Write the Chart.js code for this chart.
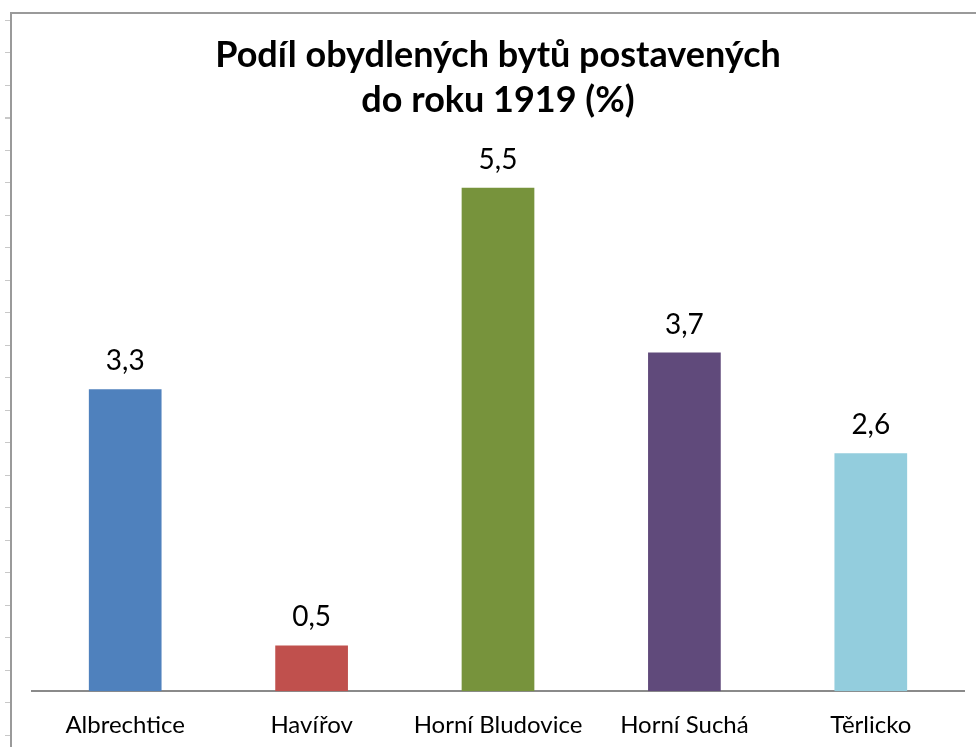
<!DOCTYPE html>
<html lang="cs">
<head>
    <meta charset="UTF-8">
    <title>Podíl obydlených bytů postavených do roku 1919</title>
    <script src="https://cdn.jsdelivr.net/npm/chart.js"></script>
    <style>
        body { margin: 0; background: #fff; }
        #wrap { position: relative; width: 976px; height: 747px; }
        #frame {
            position: absolute; left: 10px; top: 12px; right: 0; bottom: 0;
            border-top: 2px solid #9a9a9a; border-left: 2px solid #9a9a9a;
        }
        #marks {
            position: absolute; left: 5px; top: 20px; width: 5px; bottom: 0;
            background: repeating-linear-gradient(to bottom, #c8c8c8 0, #c8c8c8 1px, transparent 1px, transparent 32.5px);
        }
        canvas { position: absolute; left: 0; top: 0; }
    </style>
</head>
<body>
<div id="wrap">
    <div id="marks"></div>
    <div id="frame"></div>
    <canvas id="myChart" width="976" height="747"></canvas>
</div>
<script>
    // data
    var obce = ['Albrechtice', 'Havířov', 'Horní Bludovice', 'Horní Suchá', 'Těrlicko'];
    var podil = [3.3, 0.5, 5.5, 3.7, 2.6];
    var barvy = ['#4F81BD', '#C0504D', '#77933C', '#604A7B', '#93CDDD'];
    var titulek = ['Podíl obydlených bytů postavených', 'do roku 1919 (%)'];

    // hodnoty nad sloupci (s desetinnou čárkou)
    var popisky = {
        id: 'popisky',
        afterDatasetsDraw: function(chart) {
            var ctx = chart.ctx;
            var meta = chart.getDatasetMeta(0);
            ctx.save();
            ctx.font = '28px Lato';
            ctx.fillStyle = '#000';
            ctx.textAlign = 'center';
            ctx.textBaseline = 'alphabetic';
            meta.data.forEach(function(bar, i) {
                var txt = String(podil[i]).replace('.', ',');
                ctx.fillText(txt, bar.x, bar.y - 19);
            });
            ctx.restore();
        }
    };

    var ctx = document.getElementById('myChart').getContext('2d');
    var myChart = new Chart(ctx, {
        type: 'bar',
        data: {
            labels: obce,
            datasets: [{
                data: podil,
                backgroundColor: barvy,
                borderWidth: 0,
                categoryPercentage: 1,
                barPercentage: 0.39
            }]
        },
        options: {
            responsive: false,
            animation: false,
            layout: { padding: { top: 33, left: 32, right: 12, bottom: -13 } },
            plugins: {
                legend: { display: false },
                tooltip: { enabled: false },
                title: {
                    display: true,
                    text: titulek,
                    color: '#000',
                    font: { family: 'Lato', size: 36, weight: 'bold', lineHeight: 1.25 },
                    padding: { top: 0, bottom: 19 }
                }
            },
            scales: {
                x: {
                    grid: { display: false, drawTicks: false },
                    border: { display: true, color: '#8a8a8a', width: 2 },
                    ticks: {
                        color: '#000',
                        font: { family: 'Lato', size: 24 },
                        padding: 20
                    }
                },
                y: {
                    display: false,
                    min: 0,
                    max: 6
                }
            }
        },
        plugins: [popisky]
    });
</script>
</body>
</html>
